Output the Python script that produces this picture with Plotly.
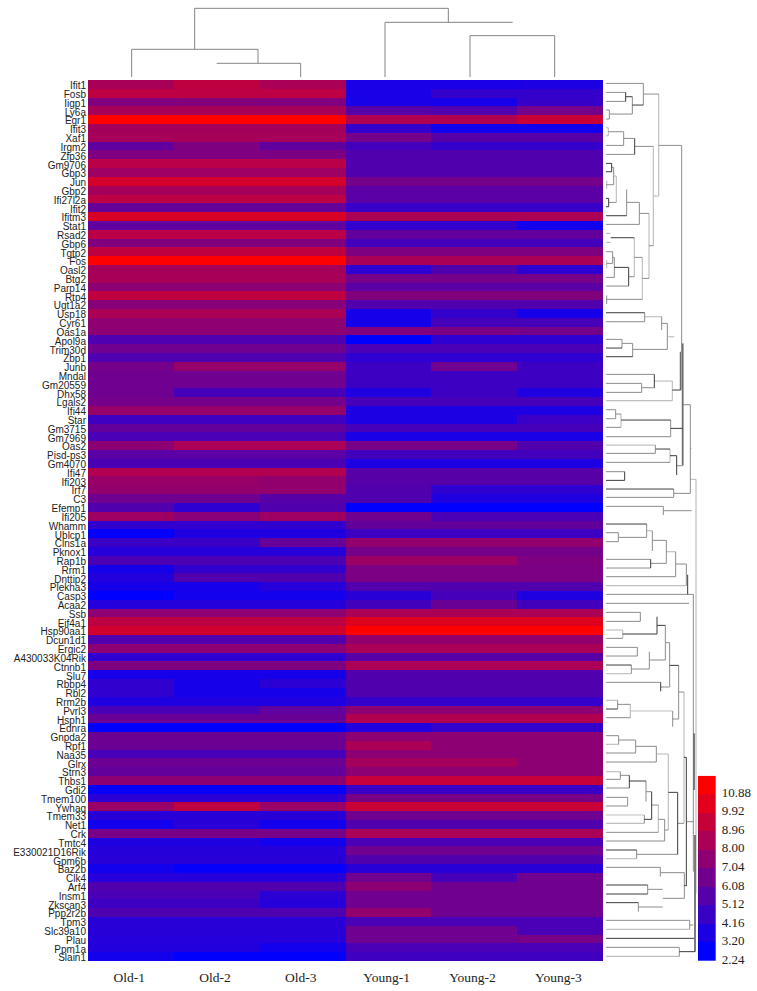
import plotly.graph_objects as go

W, H = 757, 991

genes = ["Ifit1","Fosb","Iigp1","Ly6a","Egr1","Ifit3","Xaf1","Irgm2","Zfp36","Gm9706",
"Gbp3","Jun","Gbp2","Ifi27l2a","Ifit2","Ifitm3","Stat1","Rsad2","Gbp6","Tgtp2",
"Fos","Oasl2","Btg2","Parp14","Rtp4","Ugt1a2","Usp18","Cyr61","Oas1a","Apol9a",
"Trim30d","Zbp1","Junb","Mndal","Gm20559","Dhx58","Lgals2","Ifi44","Star","Gm3715",
"Gm7969","Oas2","Pisd-ps3","Gm4070","Ifi47","Ifi203","Irf7","C3","Efemp1","Ifi205",
"Whamm","Ublcp1","Clns1a","Pknox1","Rap1b","Rrm1","Dnttip2","Plekha3","Casp3","Acaa2",
"Ssb","Eif4a1","Hsp90aa1","Dcun1d1","Ergic2","A430033K04Rik","Ctnnb1","Slu7","Rbbp4","Rbl2",
"Rrm2b","Pvrl3","Hsph1","Ednra","Gnpda2","Rpf1","Naa35","Glrx","Strn3","Thbs1",
"Gdi2","Tmem100","Ywhaq","Tmem33","Net1","Crk","Tmtc4","E330021D16Rik","Gpm6b","Baz2b",
"Clk4","Arf4","Insm1","Zkscan3","Ppp2r2b","Tpm3","Slc39a10","Plau","Ppm1a","Slain1"]

samples = ["Old-1","Old-2","Old-3","Young-1","Young-2","Young-3"]

old_1 = [7.9,8.6,6.6,7.9,10.88,7.8,7.9,5.5,6.5,8.5,
7.6,9.4,7.8,8.6,5.7,9.6,5.5,8.5,6.6,8.7,
10.8,7.9,7.9,7.0,8.7,6.8,8.0,7.1,7.0,4.9,
6.0,4.9,6.2,6.0,6.0,6.0,6.2,7.3,4.4,5.6,
4.7,7.0,5.3,4.8,8.2,7.4,7.2,6.0,5.0,7.6,
3.9,2.3,4.2,3.5,4.8,3.0,3.4,3.0,2.24,3.5,
7.0,8.6,9.3,5.0,7.0,3.8,6.5,3.0,3.9,3.9,
3.3,4.7,5.8,2.24,5.9,5.9,4.6,5.9,5.6,7.0,
2.4,3.7,7.4,3.6,2.9,6.3,3.3,3.5,3.6,2.9,
3.5,5.0,4.7,4.3,4.9,3.6,3.6,3.5,3.4,2.9]
old_2 = [8.7,8.6,6.7,7.9,10.88,7.8,7.9,6.5,6.5,8.5,
7.6,9.4,7.8,8.6,5.7,9.6,5.5,8.5,6.6,8.7,
10.8,7.9,7.9,7.0,8.7,6.8,8.0,7.1,7.0,4.9,
6.0,4.9,7.3,6.0,6.0,4.6,6.2,7.3,4.4,5.6,
4.7,8.0,5.3,4.8,8.2,7.4,7.2,6.0,3.8,6.8,
3.9,3.3,4.2,3.5,4.8,3.9,5.0,3.0,2.9,3.5,
7.0,8.6,9.3,5.0,7.0,3.8,6.5,3.0,3.0,3.0,
3.3,4.7,5.8,2.24,5.9,5.9,4.6,5.9,5.6,7.0,
2.4,3.7,8.7,3.6,3.6,6.3,3.3,3.5,3.6,2.4,
3.5,5.0,4.7,4.3,4.9,3.6,3.6,3.5,3.4,2.3]
old_3 = [8.0,8.6,6.6,7.9,10.88,7.8,7.9,5.5,6.4,8.5,
7.6,9.4,7.8,8.6,5.7,9.6,5.5,8.5,6.6,8.7,
10.8,7.9,7.9,7.0,8.7,6.8,8.0,7.1,7.0,4.9,
6.0,4.9,7.3,6.0,6.0,4.6,6.2,7.3,4.4,5.6,
4.7,8.0,5.3,4.8,8.2,7.2,7.2,5.2,5.0,7.6,
3.9,3.3,5.7,3.5,4.8,3.9,5.0,3.5,2.9,3.5,
7.0,8.6,9.3,5.0,7.0,3.8,6.5,3.0,3.7,3.0,
3.3,5.5,5.8,2.24,5.9,5.9,4.6,5.9,5.6,7.0,
2.4,3.7,7.4,3.6,2.9,6.3,2.9,3.5,3.6,2.4,
3.5,5.0,3.7,3.5,4.9,3.6,3.6,3.5,2.9,2.3]
young_1 = [3.1,3.1,3.1,5.2,8.2,4.0,6.2,4.5,5.0,5.0,
5.0,6.2,5.3,5.3,4.1,8.0,3.9,5.6,4.5,6.5,
8.0,3.8,6.2,5.3,6.6,5.0,3.0,3.0,6.6,2.24,
4.7,3.8,4.3,4.3,4.3,3.3,4.6,3.2,3.2,4.6,
3.1,6.3,4.5,3.2,5.2,5.2,5.0,4.9,2.24,6.0,
5.6,4.3,7.2,6.2,7.5,6.4,6.4,5.0,3.6,4.5,
8.0,9.8,10.88,7.2,8.0,5.2,8.0,5.0,5.0,5.0,
4.0,7.0,8.2,3.4,7.0,8.0,7.0,7.8,7.0,8.9,
4.2,6.3,9.0,6.0,5.0,8.0,4.7,6.0,5.0,3.6,
6.0,7.0,6.0,6.0,7.2,4.7,6.0,6.0,4.7,4.4]
young_2 = [3.1,4.0,3.0,5.0,8.2,2.9,5.2,4.0,5.0,5.0,
5.0,6.2,5.3,5.3,4.1,8.0,3.9,5.6,4.5,6.5,
8.0,5.0,6.2,5.3,6.6,5.0,4.0,4.6,6.4,3.8,
4.7,3.8,6.0,4.3,4.3,4.3,4.6,3.2,3.2,4.6,
3.1,6.3,4.5,3.2,5.2,5.2,3.8,3.3,2.24,4.7,
5.6,4.3,7.2,6.2,7.5,6.4,6.4,5.0,4.6,5.8,
8.0,9.8,10.88,7.2,8.0,5.2,8.0,5.0,5.0,5.0,
4.0,7.0,8.2,4.0,7.0,7.0,7.0,7.8,7.0,8.9,
4.2,6.3,9.0,6.0,5.0,8.0,4.7,6.0,5.0,3.6,
4.6,6.0,6.0,6.0,6.0,4.7,6.0,6.0,4.7,4.4]
young_3 = [3.2,4.0,4.1,6.2,9.0,2.9,5.2,4.0,5.0,5.0,
5.0,6.2,5.3,5.3,4.1,8.0,2.9,5.6,4.5,6.5,
8.0,3.8,6.2,5.3,6.6,5.0,3.0,4.6,6.2,3.8,
4.7,3.8,4.3,4.3,4.3,3.3,4.6,3.2,4.2,4.6,
3.1,5.0,4.5,3.2,5.2,5.2,3.8,3.3,2.24,4.7,
5.6,4.3,7.2,6.2,6.5,6.4,6.4,5.0,3.3,4.5,
8.0,9.8,10.88,7.2,8.0,5.2,8.0,5.0,5.0,5.0,
4.0,7.0,8.2,4.0,7.0,7.0,7.0,7.0,7.0,8.9,
4.2,6.3,9.0,6.0,5.0,8.0,4.7,6.0,5.0,3.6,
6.0,6.0,6.0,6.0,6.0,4.7,4.7,6.3,4.7,4.4]

scale_ticks = [2.24,3.20,4.16,5.12,6.08,7.04,8.00,8.96,9.92,10.88]
scale_top = 11.84

# Row dendrogram, in tree units (26.43 units per row; 3 units per pixel of height).
# Each block: horizontal links (row pos, height from, height to, tone), vertical links (height, from, to, tone).
tree_blocks = []
tree_blocks.append((-43, [
(40,798,910,'m'),(67,798,857,'m'),(94,798,857,'m'),(80,857,877,'d'),(105,877,910,'d'),(132,808,877,'m'),
(120,798,808,'m'),(147,798,808,'m'),(72,910,956,'m'),(226,956,1025,'m'),(378,940,956,'l'),
(173,798,805,'l'),(197,798,805,'l'),(185,805,851,'m'),(226,798,851,'m'),(205,851,884,'m'),(253,798,884,'m'),
(229,884,940,'m'),(527,927,940,'m'),(430,898,927,'m'),(625,907,927,'m'),(397,860,898,'m'),(463,798,898,'m'),(437,798,860,'d'),
(280,798,815,'d'),(305,798,815,'d'),(292,815,821,'m'),(344,798,821,'m'),(318,821,829,'l'),(397,806,829,'m'),(385,798,806,'d'),(410,798,806,'d'),
(490,798,812,'l'),(517,798,812,'l'),(503,812,883,'d'),(620,866,883,'m'),(562,883,907,'m'),(688,798,907,'m'),
(545,798,818,'m'),(580,800,818,'m'),(562,818,823,'m'),(622,798,823,'m'),(592,823,866,'d'),(648,798,866,'m'),
],[
(910,40,105,'m'),(857,67,94,'d'),(877,80,132,'m'),(808,120,147,'m'),(956,72,378,'l'),(805,173,197,'l'),(851,185,226,'m'),
(884,205,253,'d'),(940,229,527,'l'),(927,430,625,'l'),(898,397,463,'m'),(860,358,437,'m'),(815,280,305,'d'),(821,292,344,'m'),
(829,318,397,'l'),(806,385,410,'d'),(883,503,620,'l'),(907,562,688,'l'),(866,592,648,'d'),(823,562,622,'m'),(818,545,580,'m'),
(800,570,595,'l'),(800,676,702,'m'),(800,332,356,'l'),
]))
tree_blocks.append((677, [
(8,798,914,'d'),(35,798,914,'m'),(20,914,965,'l'),(40,965,982,'m'),(118,878,982,'m'),(80,985,1003,'l'),(100,846,878,'m'),(140,798,878,'d'),
(88,798,846,'m'),(114,798,846,'d'),(240,997,1022,'d'),(213,943,997,'l'),(272,798,997,'l'),(193,798,943,'m'),(233,905,943,'m'),(220,798,905,'m'),(247,798,905,'m'),
(355,992,1028,'d'),(330,843,992,'d'),(380,798,992,'m'),(312,827,843,'m'),(352,798,843,'m'),(299,798,827,'m'),(326,798,827,'m'),
(467,1010,1030,'m'),(437,990,1010,'d'),(417,947,990,'d'),(457,798,990,'m'),(405,798,946,'l'),(430,798,946,'m'),(485,798,854,'m'),(511,798,854,'d'),
(284,1028,1051,'m'),(550,1001,1051,'m'),(537,798,1001,'d'),(562,798,1001,'m'),(415,1051,1055,'l'),(508,1051,1068,'l'),
(589,798,970,'m'),(602,970,1055,'m'),(642,798,920,'d'),(682,835,920,'m'),(668,798,835,'m'),(695,798,835,'m'),(662,920,937,'l'),(691,937,979,'m'),
],[
(1025,-494,125,'m'),(1022,125,240,'k'),(1028,100,465,'k'),
(914,8,35,'m'),(965,20,60,'m'),(982,40,118,'m'),(878,100,140,'m'),(846,88,114,'m'),(997,213,272,'l'),(943,193,233,'d'),(905,220,247,'m'),
(992,330,380,'m'),(843,312,352,'l'),(827,299,326,'m'),(1010,437,495,'d'),(990,417,457,'l'),(946,405,430,'m'),(854,485,511,'d'),(1051,284,550,'m'),
(1001,537,562,'m'),(1068,508,1750,'l'),(970,589,615,'m'),(920,642,682,'m'),(835,668,695,'m'),(937,662,723,'m'),(979,691,760,'m'),
]))
tree_blocks.append((1397, [
(28,798,932,'m'),(54,798,932,'m'),(40,932,979,'m'),(5,979,1007,'l'),(80,798,1007,'m'),(42,1007,1039,'m'),(107,798,1039,'l'),(75,1039,1043,'m'),(133,798,1060,'m'),(160,798,1047,'m'),
(187,798,901,'m'),(214,798,901,'m'),(252,848,951,'d'),(240,798,848,'l'),(265,798,848,'m'),(226,951,976,'d'),(278,976,989,'m'),(330,928,976,'m'),(292,798,892,'m'),(318,798,892,'m'),
(357,874,928,'m'),(345,798,874,'d'),(371,798,874,'l'),(411,962,989,'m'),(397,798,962,'m'),(346,989,1016,'d'),(507,998,1016,'m'),(483,871,998,'l'),(463,833,871,'m'),(451,798,833,'l'),(477,798,833,'d'),(503,798,871,'m'),(426,1016,1032,'m'),
(557,798,836,'m'),(583,798,836,'l'),(570,836,887,'m'),(609,798,887,'m'),(589,887,949,'m'),(636,798,949,'m'),(612,949,985,'l'),(622,1032,1039,'d'),
],[
(932,28,54,'d'),(1007,5,80,'m'),(1039,42,107,'m'),(1043,75,133,'d'),(901,187,214,'m'),(951,200,252,'d'),(848,240,265,'l'),(976,226,330,'m'),(892,292,318,'m'),(928,305,357,'m'),
(874,345,371,'m'),(989,278,411,'m'),(962,397,424,'d'),(1016,346,507,'m'),(998,483,530,'m'),(871,463,503,'l'),(833,451,477,'m'),(1032,426,820,'l'),(836,557,583,'m'),(887,570,609,'m'),
(949,589,636,'m'),(985,612,840,'l'),(1039,622,1007,'d'),(1060,133,965,'m'),(1062,550,720,'k'),(1065,855,1205,'k'),
]))
tree_blocks.append((2057, [
(5,798,841,'l'),(28,798,841,'m'),(16,841,868,'m'),(54,798,868,'m'),(33,868,918,'d'),(65,918,935,'m'),(82,798,863,'m'),(108,798,863,'m'),(148,913,935,'d'),(135,798,913,'l'),(160,798,913,'l'),
(105,935,955,'m'),(187,798,955,'m'),(148,955,974,'m'),(213,798,974,'m'),(180,974,985,'m'),(67,985,1013,'d'),(253,890,1013,'m'),(240,798,890,'d'),(266,798,890,'l'),(160,1013,1032,'m'),(155,1040,1060,'m'),
(292,798,961,'m'),(308,961,1033,'m'),(385,968,1033,'m'),(347,1033,1040,'d'),(345,798,923,'d'),(372,798,923,'d'),(358,923,968,'m'),(398,798,895,'d'),(411,895,968,'m'),
(451,798,1049,'m'),(478,798,1049,'l'),(465,1049,1060,'m'),(505,798,1062,'d'),(532,798,1018,'m'),(559,798,1018,'l'),(545,1018,1065,'d'),
],[
(841,5,28,'m'),(868,16,54,'d'),(918,33,95,'m'),(935,65,148,'d'),(863,82,108,'m'),(913,135,160,'m'),(955,105,187,'l'),(974,148,213,'m'),(1013,67,253,'d'),(890,240,266,'m'),
(961,292,320,'m'),(1033,308,385,'m'),(923,345,372,'m'),(895,398,425,'m'),(1049,451,478,'m'),(1018,532,559,'m'),
]))
tree_leaf_base = 798

# Column dendrogram: (position across, from height, to height) and (height, from position, to position)
col_tree_up = [(155,0,84),(534,42,84),(662,0,42),(344,84,207),(1105,165,207),(915,0,165),(1170,0,125),(1424,0,125)]
col_tree_across = [(84,155,534),(42,410,662),(207,344,1105),(165,915,1298),(125,1170,1424)]

def dx(px): return px / W
def dy(py): return 1 - py / H

fig = go.Figure()
scale = [[0, "rgb(0,0,255)"], [1, "rgb(255,0,0)"]]

z = [list(r) for r in zip(old_1, old_2, old_3, young_1, young_2, young_3)]
assert len(genes) == 100 and all(len(c) == 100 for c in (old_1, old_2, old_3, young_1, young_2, young_3))

fig.add_trace(go.Heatmap(z=z, x=list(range(6)), y=list(range(100)), colorscale=scale,
                         zmin=2.24, zmax=10.88, showscale=False, xaxis="x", yaxis="y"))

# Stepped scale bar
fig.add_trace(go.Heatmap(z=[[t] for t in scale_ticks], x=[0], y=scale_ticks + [scale_top],
                         colorscale=scale, zmin=2.24, zmax=10.88, showscale=False,
                         xaxis="x4", yaxis="y4"))

tones = {'m': ("#8c8c8c", 1.0), 'd': ("#3c3c3c", 1.0), 'l': ("#c0c0c0", 1.2), 'k': ("#6e6e6e", 1.8)}
segs = {k: ([], []) for k in tones}
for base, hs, vs in tree_blocks:
    for y, a, b, t in hs:
        segs[t][0].extend([a - tree_leaf_base, b - tree_leaf_base, None])
        segs[t][1].extend([y + base, y + base, None])
    for x, a, b, t in vs:
        segs[t][0].extend([x - tree_leaf_base, x - tree_leaf_base, None])
        segs[t][1].extend([a + base, b + base, None])
for t in ('l', 'm', 'k', 'd'):
    c, w = tones[t]
    fig.add_trace(go.Scatter(x=segs[t][0], y=segs[t][1], mode="lines", line=dict(color=c, width=w),
                             xaxis="x2", yaxis="y2", hoverinfo="skip", showlegend=False))

cx, cy = [], []
for x, a, b in col_tree_up:
    cx.extend([x - 24, x - 24, None]); cy.extend([a, b, None])
for y, a, b in col_tree_across:
    cx.extend([a - 24, b - 24, None]); cy.extend([y, y, None])
fig.add_trace(go.Scatter(x=cx, y=cy, mode="lines", line=dict(color="#858585", width=1),
                         xaxis="x3", yaxis="y3", hoverinfo="skip", showlegend=False))

hidden = dict(visible=False, fixedrange=True, automargin=False)
fig.update_layout(
    width=W, height=H, margin=dict(l=0, r=0, t=0, b=0, pad=0, autoexpand=False),
    paper_bgcolor="white", plot_bgcolor="white", showlegend=False,
    xaxis=dict(domain=[dx(88), dx(603)], range=[-0.5, 5.5], tickmode="array",
               tickvals=[i - 0.02 for i in range(6)],
               ticktext=samples, ticks="", showline=False, showgrid=False, zeroline=False, automargin=False,
               tickfont=dict(family="Liberation Serif", size=13.5, color="#222222"), ticklabelstandoff=6),
    yaxis=dict(domain=[dy(961), dy(80)], range=[99.5, -0.5], tickmode="array",
               tickvals=[i + 0.15 for i in range(100)],
               ticktext=genes, ticks="", showline=False, showgrid=False, zeroline=False, automargin=False,
               tickfont=dict(family="Liberation Sans", size=10, color="#222222"), ticklabelstandoff=1),
    xaxis2=dict(domain=[dx(606), dx(700)], range=[0, 282], anchor="y2", **hidden),
    yaxis2=dict(domain=[dy(961), dy(80)], range=[2630, -13.2], anchor="x2", **hidden),
    xaxis3=dict(domain=[dx(88), dx(603)], range=[0, 1545], anchor="y3", **hidden),
    yaxis3=dict(domain=[dy(77.3), dy(0)], range=[0, 232], anchor="x3", **hidden),
    xaxis4=dict(domain=[dx(698), dx(715.7)], range=[-0.5, 0.5], anchor="y4", **hidden),
    yaxis4=dict(domain=[dy(961), dy(775.7)], range=[2.24, scale_top], anchor="x4", side="right",
                tickmode="array", tickvals=[t + 0.1 for t in scale_ticks],
                ticktext=[f"{t:.2f}" for t in scale_ticks], ticks="", showline=False, showgrid=False,
                zeroline=False, fixedrange=True, ticklabelstandoff=5, automargin=False,
                tickfont=dict(family="Liberation Serif", size=13, color="#222222")),
)

fig.write_html("out.html", post_script="document.body.style.margin='0';window.dispatchEvent(new Event('resize'));",
               config=dict(displayModeBar=False))
